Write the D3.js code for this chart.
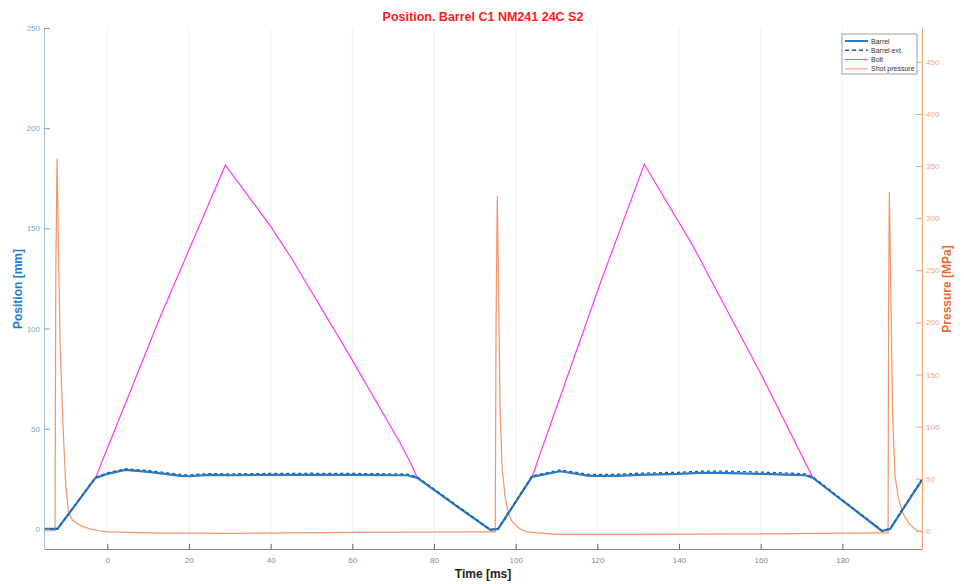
<!DOCTYPE html>
<html>
<head>
<meta charset="utf-8">
<script src="https://cdn.jsdelivr.net/npm/d3@7"></script>
<style>
  body { margin: 0; background: #fff; }
  text { font-family: "Liberation Sans", Arial, sans-serif; }
</style>
</head>
<body>
<script>
// time in ms, positions in mm, pressure in MPa

var barrelT = [-15.5, -12.2, -2.9, 0, 4.4, 10, 18, 20, 25, 30, 40, 50, 60, 70, 73.4, 75.9, 86.4, 93.8, 95.7,
  104, 110.9, 118, 125, 130, 140, 145, 150, 160, 168, 171, 172.8, 189.7, 191.7, 199.5];
var barrelV = [0, 0, 25.5, 27.5, 29.5, 28.5, 26.5, 26.3, 27, 26.8, 27, 27, 27, 26.8, 26.8, 25.5, 10.2, -0.5, 0,
  26, 28.8, 26.5, 26.5, 27, 27.5, 28, 28, 27.5, 27, 26.8, 25.5, -1, 0, 24.5];

var extT = [-15.5, -12.2, -2.9, 0, 4.4, 10, 18, 20, 25, 30, 40, 50, 60, 70, 73.4, 75.9, 86.4, 93.8, 95.7,
  104, 110.9, 118, 125, 130, 140, 145, 150, 160, 168, 171, 172.8, 189.7, 191.7, 199.5];
var extV = [0, 0, 25.8, 28, 30, 29.2, 27.2, 27, 27.6, 27.5, 27.7, 27.8, 27.7, 27.5, 27.4, 26, 10.5, -0.3, 0.2,
  26.5, 29.5, 27.2, 27.3, 27.8, 28.3, 28.8, 28.9, 28.4, 27.8, 27.5, 26, -0.8, 0.2, 25];

var boltT = [-15.5, -12.2, -2.9, 13, 28.9, 32.6, 40, 45.3, 59.5, 71.7, 74.5, 75.9, 86.4, 93.8, 95.7,
  104, 120.7, 131.5, 143.2, 159.9, 172.8, 189.7, 191.7, 199.5];
var boltV = [0, 0, 25.5, 106, 181.5, 171.5, 151, 134.5, 86, 43, 32, 25.5, 10.2, -0.5, 0,
  26, 122.5, 182, 142, 78, 25.5, -1, 0, 24.5];

var pressT = [-15.5, -12.8, -12.6, -12.3, -12.0, -11.5, -10.8, -10.2, -9.5, -8.5, -7, -5.9, -4, -2, 0, 10, 30, 60, 90, 95.0,
  95.2, 95.5, 95.8, 96.2, 96.7, 97.4, 98.2, 99.1, 101, 102.8, 110, 130, 160, 188, 191.2,
  191.3, 191.5, 191.8, 192.3, 192.9, 193.8, 194.9, 196.5, 198.3, 199.5];
var pressV = [0, 0, 250, 357, 280, 170, 97, 45, 18, 10, 6, 4, 1.5, 0, -1, -2, -2.5, -1.5, -1, -1,
  200, 321, 241, 113, 60, 33, 17, 9, 2, -1, -3.5, -3.5, -3, -2, -2,
  200, 325, 250, 110, 52, 30, 16, 6, 0, -1];

var xTicks = [0, 20, 40, 60, 80, 100, 120, 140, 160, 180];
var leftTicks = [0, 50, 100, 150, 200, 250];
var rightTicks = [0, 50, 100, 150, 200, 250, 300, 350, 400, 450];

var legendNames = ["Barrel", "Barrel ext.", "Bolt", "Shot pressure"];

var blue = "#2a7cc4", orange = "#f0956a", magenta = "#ff33ff";

var width = 964, height = 584;
var margin = {top: 28, right: 42, bottom: 35, left: 44};

var svg = d3.select("body").append("svg")
  .attr("width", width)
  .attr("height", height);

var w = width - margin.left - margin.right;
var h = height - margin.top - margin.bottom;

var g = svg.append("g")
  .attr("transform", "translate(" + margin.left + "," + margin.top + ")");

var x = d3.scaleLinear().domain([-15.5, 199.5]).range([0, w]);
var y = d3.scaleLinear().domain([-10, 250]).range([h, 0]);
var y2 = d3.scaleLinear().domain([-17.5, 482.5]).range([h, 0]);

// vertical grid
g.selectAll("line.grid")
  .data(xTicks)
  .enter().append("line")
  .attr("class", "grid")
  .attr("x1", function(d) { return x(d); })
  .attr("x2", function(d) { return x(d); })
  .attr("y1", 0)
  .attr("y2", h)
  .attr("stroke", "#f0f0f0")
  .attr("stroke-width", 1);

svg.append("clipPath").attr("id", "clip")
  .append("rect").attr("width", w).attr("height", h);

var plot = g.append("g").attr("clip-path", "url(#clip)");

function pts(ts, vs) {
  return ts.map(function(t, i) { return [t, vs[i]]; });
}

var lineL = d3.line().x(function(d) { return x(d[0]); }).y(function(d) { return y(d[1]); });
var lineR = d3.line().x(function(d) { return x(d[0]); }).y(function(d) { return y2(d[1]); });

plot.append("path")
  .attr("d", lineR(pts(pressT, pressV)))
  .attr("fill", "none").attr("stroke", orange).attr("stroke-width", 1.2);

plot.append("path")
  .attr("d", lineL(pts(boltT, boltV)))
  .attr("fill", "none").attr("stroke", magenta).attr("stroke-width", 1.2);

plot.append("path")
  .attr("d", lineL(pts(barrelT, barrelV)))
  .attr("fill", "none").attr("stroke", blue).attr("stroke-width", 2.2);

plot.append("path")
  .attr("d", lineL(pts(extT, extV)))
  .attr("fill", "none").attr("stroke", "#1a5f9a").attr("stroke-width", 1.3)
  .attr("stroke-dasharray", "3,3");

// axes
var xAxis = g.append("g")
  .attr("transform", "translate(0," + h + ")")
  .call(d3.axisBottom(x).tickValues(xTicks).tickSizeInner(-5).tickSizeOuter(0).tickPadding(8));
xAxis.select(".domain").attr("stroke", "#888");
xAxis.selectAll(".tick line").attr("stroke", "#666");
xAxis.selectAll("text").attr("fill", "#888").style("font-size", "8px");

var yAxis = g.append("g")
  .call(d3.axisLeft(y).tickValues(leftTicks).tickSizeInner(-6).tickSizeOuter(0).tickPadding(4));
yAxis.select(".domain").attr("stroke", "#9cc4e4");
yAxis.selectAll(".tick line").attr("stroke", "#7a9ab8");
yAxis.selectAll("text").attr("fill", "#7aa6c8").style("font-size", "8px");

var yAxis2 = g.append("g")
  .attr("transform", "translate(" + w + ",0)")
  .call(d3.axisRight(y2).tickValues(rightTicks).tickSizeInner(-6).tickSizeOuter(0).tickPadding(4));
yAxis2.select(".domain").attr("stroke", "#f4a27a");
yAxis2.selectAll(".tick line").attr("stroke", "#f0a07a");
yAxis2.selectAll("text").attr("fill", "#f2a482").style("font-size", "8px");

// titles
svg.append("text")
  .attr("x", 483).attr("y", 21)
  .attr("text-anchor", "middle")
  .attr("fill", "#ff1a1a")
  .style("font-size", "12.5px").style("font-weight", "bold")
  .text("Position. Barrel C1 NM241 24C S2");

svg.append("text")
  .attr("x", 483).attr("y", 578)
  .attr("text-anchor", "middle")
  .attr("fill", "#222")
  .style("font-size", "12px").style("font-weight", "bold")
  .text("Time [ms]");

svg.append("text")
  .attr("transform", "translate(22,289) rotate(-90)")
  .attr("text-anchor", "middle")
  .attr("fill", "#1a7fd0")
  .style("font-size", "12px").style("font-weight", "bold")
  .text("Position [mm]");

svg.append("text")
  .attr("transform", "translate(951,289) rotate(-90)")
  .attr("text-anchor", "middle")
  .attr("fill", "#ee6a2e")
  .style("font-size", "12px").style("font-weight", "bold")
  .text("Pressure [MPa]");

// legend
var leg = svg.append("g").attr("transform", "translate(842,34)");
leg.append("rect")
  .attr("width", 75).attr("height", 40)
  .attr("fill", "#fff").attr("stroke", "#888").attr("stroke-width", 0.8);

var legStyle = [
  {c: blue, w: 2, dash: null},
  {c: "#1a5f9a", w: 1.5, dash: "4,3"},
  {c: magenta, w: 1, dash: null},
  {c: orange, w: 1, dash: null}
];

var rows = leg.selectAll("g.row")
  .data(legendNames)
  .enter().append("g")
  .attr("class", "row")
  .attr("transform", function(d, i) { return "translate(0," + (7 + i * 9.3) + ")"; });

rows.append("line")
  .attr("x1", 3).attr("x2", 26)
  .attr("stroke", function(d, i) { return legStyle[i].c; })
  .attr("stroke-width", function(d, i) { return legStyle[i].w; })
  .attr("stroke-dasharray", function(d, i) { return legStyle[i].dash; });

rows.append("text")
  .attr("x", 29).attr("y", 2.5)
  .attr("fill", "#333")
  .style("font-size", "7px")
  .text(function(d) { return d; });
</script>
</body>
</html>
